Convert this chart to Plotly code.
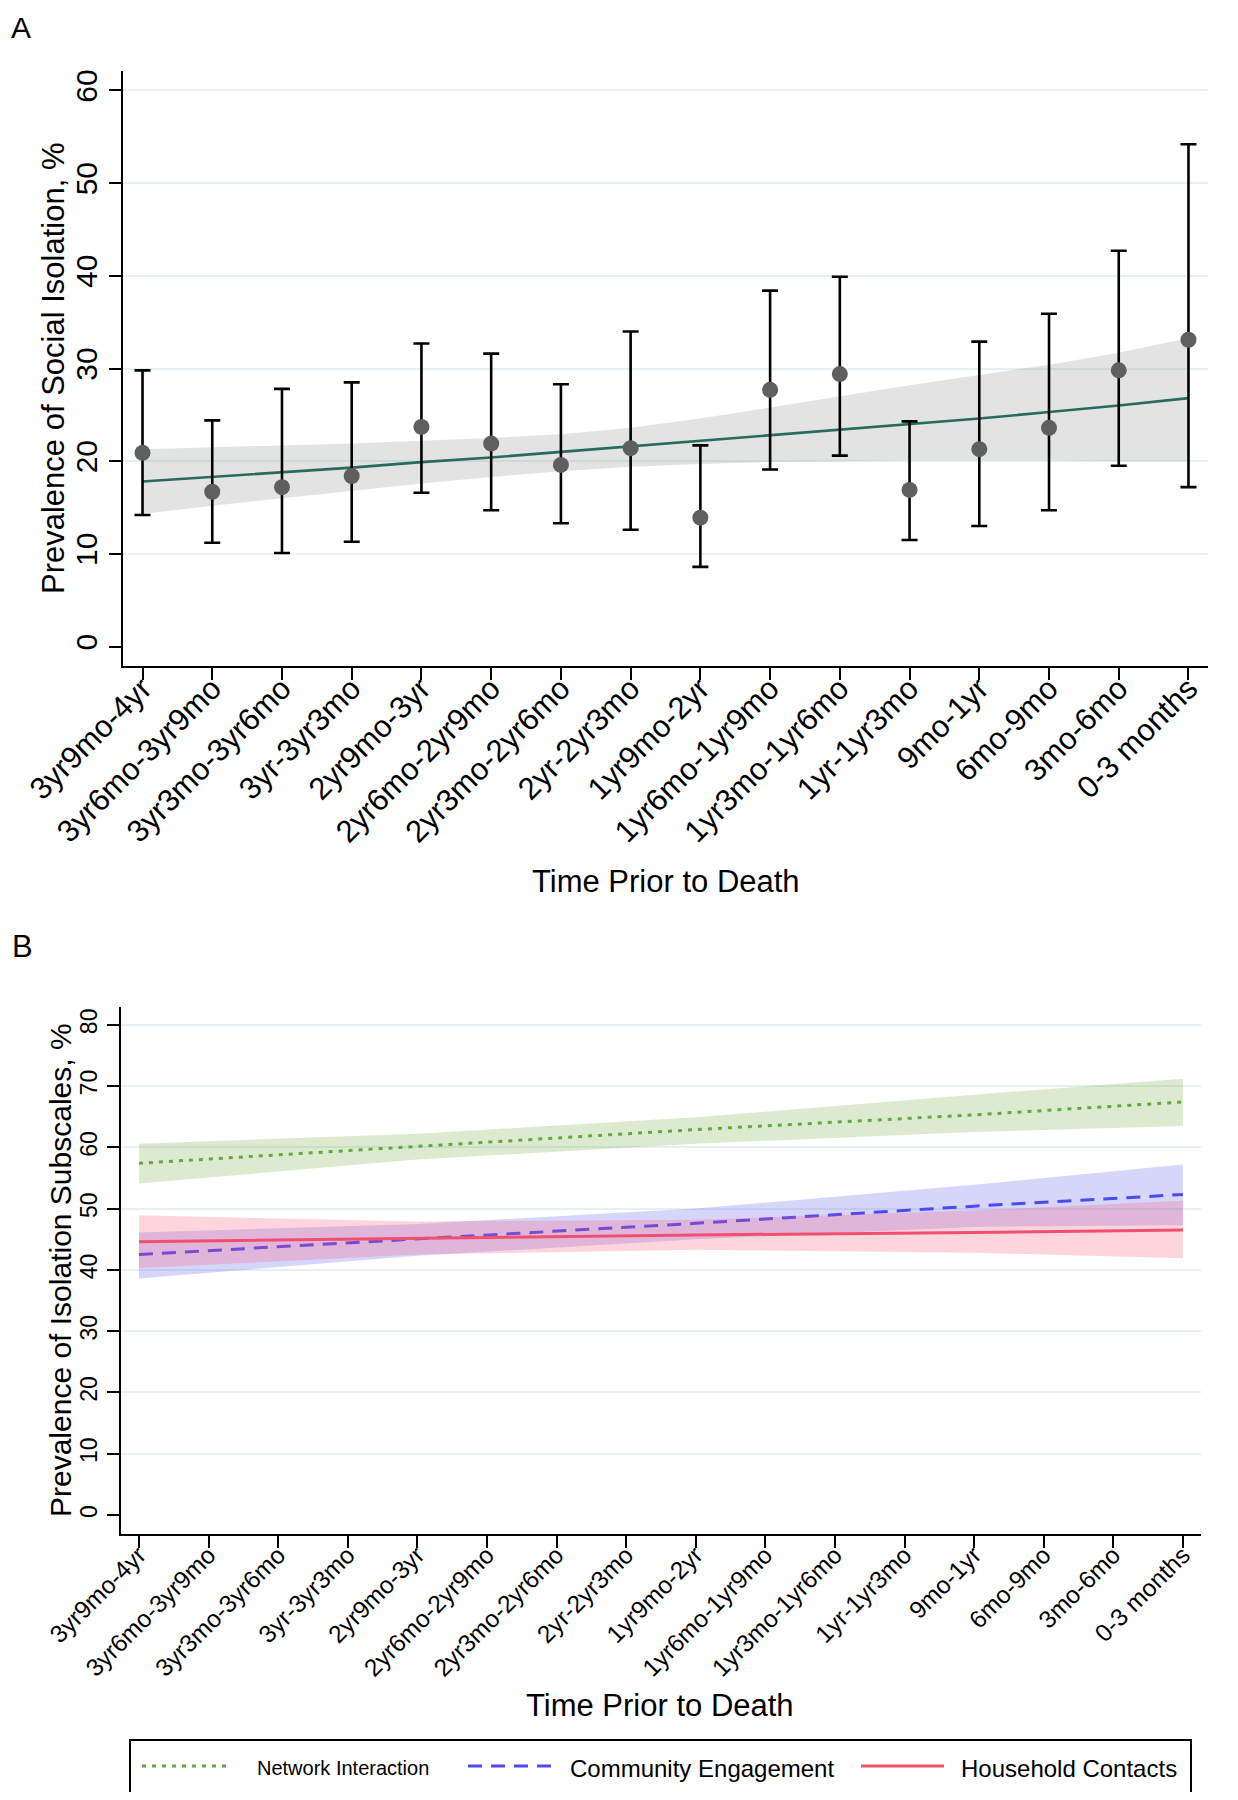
import plotly.graph_objects as go

# page has an 8px body margin; the figure is sized so that it fits the 1238x1800 window
OFF = 8
W, H = 1238 - 2 * OFF, 1800 - 2 * OFF

# ---------------- data ----------------
categories = ["3yr9mo-4yr", "3yr6mo-3yr9mo", "3yr3mo-3yr6mo", "3yr-3yr3mo", "2yr9mo-3yr",
              "2yr6mo-2yr9mo", "2yr3mo-2yr6mo", "2yr-2yr3mo", "1yr9mo-2yr", "1yr6mo-1yr9mo",
              "1yr3mo-1yr6mo", "1yr-1yr3mo", "9mo-1yr", "6mo-9mo", "3mo-6mo", "0-3 months"]

# Panel A: observed prevalence with 95% CI
prevalence = [20.9, 16.7, 17.2, 18.4, 23.7, 21.9, 19.6, 21.4, 13.9, 27.7, 29.4, 16.9, 21.3, 23.6, 29.8, 33.1]
ci_upper = [29.8, 24.4, 27.8, 28.5, 32.7, 31.6, 28.3, 34.0, 21.7, 38.4, 39.9, 24.3, 32.9, 35.9, 42.7, 54.2]
ci_lower = [14.2, 11.2, 10.1, 11.3, 16.6, 14.7, 13.3, 12.6, 8.6, 19.1, 20.6, 11.5, 13.0, 14.7, 19.5, 17.2]

# Panel A: fitted trend and its band
fit_a = [17.8, 18.3, 18.8, 19.3, 19.9, 20.4, 21.0, 21.6, 22.2, 22.8, 23.4, 24.0, 24.6, 25.3, 26.0, 26.8]
fit_a_hi = [21.3, 21.5, 21.7, 21.9, 22.2, 22.5, 22.9, 23.6, 24.6, 25.8, 27.0, 28.2, 29.3, 30.4, 31.7, 33.3]
fit_a_lo = [14.3, 15.2, 16.0, 16.8, 17.6, 18.3, 18.9, 19.4, 19.7, 19.9, 20.0, 20.1, 20.1, 20.1, 20.0, 20.0]

# Panel B: fitted subscale trends (read at selected periods)
b_cats = ["3yr9mo-4yr", "2yr9mo-3yr", "1yr9mo-2yr", "9mo-1yr", "0-3 months"]
net_fit = [57.4, 60.1, 62.9, 65.3, 67.4]
net_hi = [60.6, 62.2, 64.9, 68.6, 71.2]
net_lo = [54.1, 58.0, 60.6, 62.5, 63.5]
com_fit = [42.5, 45.1, 47.6, 50.4, 52.3]
com_hi = [46.1, 47.5, 50.0, 53.9, 57.2]
com_lo = [38.6, 42.3, 45.0, 47.0, 47.3]
hh_fit = [44.6, 45.2, 45.7, 46.1, 46.5]
hh_hi = [48.9, 47.9, 48.2, 49.7, 51.3]
hh_lo = [40.3, 42.5, 43.3, 42.8, 41.9]

series_names = ["Network Interaction", "Community Engagement", "Household Contacts"]
y_ticks_a = [0, 10, 20, 30, 40, 50, 60]
y_ticks_b = [0, 10, 20, 30, 40, 50, 60, 70, 80]

# ---------------- helpers ----------------
FONT = "Liberation Sans, Arial, Helvetica, sans-serif"


def px_x(x):
    return (x - OFF) / W


def px_y(y):
    return 1 - (y - OFF) / H


fig = go.Figure()

# ---------------- Panel A ----------------
fig.add_trace(go.Scatter(
    x=categories + categories[::-1], y=fit_a_hi + fit_a_lo[::-1],
    fill="toself", fillcolor="rgba(140,140,140,0.24)", line=dict(width=0),
    mode="lines", hoverinfo="skip", showlegend=False, xaxis="x", yaxis="y"))
fig.add_trace(go.Scatter(
    x=categories, y=fit_a, mode="lines", line=dict(color="#256b5f", width=2.6),
    showlegend=False, xaxis="x", yaxis="y"))
fig.add_trace(go.Scatter(
    x=categories, y=prevalence, mode="markers",
    marker=dict(color="#5f5f5f", size=16),
    error_y=dict(type="data", symmetric=False,
                 array=[u - p for u, p in zip(ci_upper, prevalence)],
                 arrayminus=[p - l for p, l in zip(prevalence, ci_lower)],
                 color="black", thickness=2.6, width=8),
    showlegend=False, xaxis="x", yaxis="y"))

# ---------------- Panel B ----------------
b_series = [
    (series_names[0], net_fit, net_hi, net_lo, "rgba(110,170,60,0.24)", "#62a83e", "4px,6px"),
    (series_names[1], com_fit, com_hi, com_lo, "rgba(80,80,240,0.234)", "#4b4bf2", "14px,9px"),
    (series_names[2], hh_fit, hh_hi, hh_lo, "rgba(250,80,110,0.24)", "#f0506e", "solid"),
]
for name, fit, hi, lo, fc, lc, dash in b_series:
    fig.add_trace(go.Scatter(
        x=b_cats + b_cats[::-1], y=hi + lo[::-1], fill="toself", fillcolor=fc,
        line=dict(width=0), mode="lines", hoverinfo="skip", showlegend=False,
        xaxis="x2", yaxis="y2"))
    fig.add_trace(go.Scatter(
        x=b_cats, y=fit, mode="lines", name=name,
        line=dict(color=lc, width=3, dash=dash), showlegend=False,
        xaxis="x2", yaxis="y2"))

# ---------------- axes ----------------
grid_col = "#e6eff1"
common_x = dict(type="category", categoryorder="array", categoryarray=categories,
                showline=True, linecolor="black", linewidth=2, ticks="outside",
                tickcolor="black", tickwidth=2, ticklen=12, tickangle=-45,
                showgrid=False, zeroline=False, fixedrange=True, automargin=False)
common_y = dict(showline=True, linecolor="black", linewidth=2, ticks="outside",
                tickcolor="black", tickwidth=2, ticklen=12, tickangle=-90,
                showgrid=True, gridcolor=grid_col, gridwidth=2, automargin=False,
                zeroline=True, zerolinecolor="white", zerolinewidth=1)

fig.update_layout(
    xaxis=dict(**common_x, domain=[px_x(123), px_x(1208)], range=[-0.28, 15.28],
               anchor="y", ticklabelstandoff=-22,
               tickfont=dict(size=31, color="black", family=FONT)),
    yaxis=dict(**common_y, domain=[px_y(666), px_y(71)], range=[-2.1, 62.1],
               anchor="x", tickvals=y_ticks_a,
               tickfont=dict(size=30, color="black", family=FONT)),
    xaxis2=dict(**common_x, domain=[px_x(120.6), px_x(1201)], range=[-0.264, 15.26],
                anchor="y2", ticklabelstandoff=-17,
                tickfont=dict(size=24.5, color="black", family=FONT)),
    yaxis2=dict(**common_y, domain=[px_y(1534), px_y(1007)], range=[-3.1, 82.9],
                anchor="x2", tickvals=y_ticks_b,
                tickfont=dict(size=23, color="black", family=FONT)),
)

# ---------------- text ----------------
ann = []
ann.append(dict(text="A", x=px_x(9), y=px_y(9), xanchor="left", yanchor="top",
                font=dict(size=30, family=FONT, color="black")))
ann.append(dict(text="B", x=px_x(10), y=px_y(946), xanchor="left", yanchor="middle",
                font=dict(size=31, family=FONT, color="black")))
ann.append(dict(text="Time Prior to Death", x=px_x(666), y=px_y(881), xanchor="center",
                yanchor="middle", font=dict(size=31, family=FONT, color="black")))
ann.append(dict(text="Time Prior to Death", x=px_x(660), y=px_y(1705), xanchor="center",
                yanchor="middle", font=dict(size=31, family=FONT, color="black")))
ann.append(dict(text="Prevalence of Social Isolation, %", x=px_x(53), y=px_y(369),
                xanchor="center", yanchor="middle", textangle=-90,
                font=dict(size=31, family=FONT, color="black")))
ann.append(dict(text="Prevalence of Isolation Subscales, %", x=px_x(60), y=px_y(1270),
                xanchor="center", yanchor="middle", textangle=-90,
                font=dict(size=30, family=FONT, color="black")))

# legend for panel B (drawn manually to match the boxed Stata legend)
shapes = [dict(type="rect", xref="paper", yref="paper",
               x0=px_x(130), x1=px_x(1191), y0=px_y(1795), y1=px_y(1740),
               line=dict(color="black", width=2), fillcolor="rgba(0,0,0,0)")]
legend_items = [
    (series_names[0], "#62a83e", "4px,6px", 142, 230, 255, 20),
    (series_names[1], "#4b4bf2", "14px,9px", 468, 555, 568, 24),
    (series_names[2], "#f0506e", "solid", 861, 944, 959, 24),
]
for name, col, dash, lx0, lx1, tx, fs in legend_items:
    shapes.append(dict(type="line", xref="paper", yref="paper",
                       x0=px_x(lx0), x1=px_x(lx1), y0=px_y(1766), y1=px_y(1766),
                       line=dict(color=col, width=3, dash=dash)))
    ann.append(dict(text=name, x=px_x(tx), y=px_y(1768), xanchor="left", yanchor="middle",
                    font=dict(size=fs, family=FONT, color="black")))

for a in ann:
    a.update(xref="paper", yref="paper", showarrow=False)

fig.update_layout(
    annotations=ann, shapes=shapes,
    width=W, height=H, margin=dict(l=0, r=0, t=0, b=0, autoexpand=False),
    paper_bgcolor="white", plot_bgcolor="white",
    font=dict(family=FONT, color="black"),
    showlegend=False,
)

fig.write_html("out.html", config={"displayModeBar": False})
